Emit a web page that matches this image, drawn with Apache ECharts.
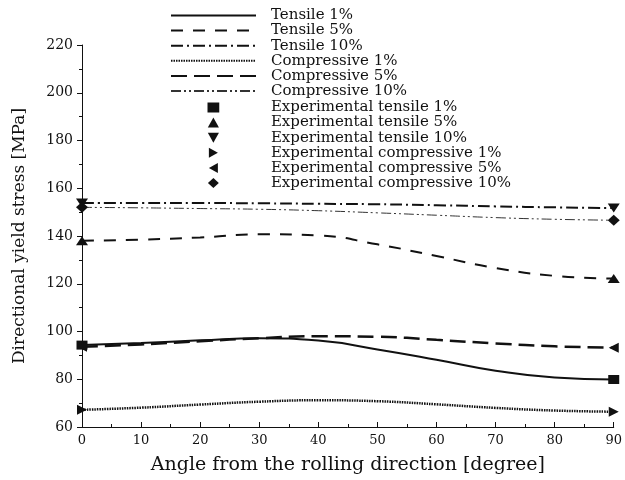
<!DOCTYPE html>
<html>
<head>
<meta charset="utf-8">
<script src="https://cdn.jsdelivr.net/npm/echarts@6/dist/echarts.min.js"></script>
<style>
  html, body { margin: 0; padding: 0; background: #fff; }
  #chart { width: 625px; height: 480px; }
</style>
</head>
<body>
<div id="chart"></div>
<script>
// Angles (degree) at which the model curves are sampled
const angles = [0, 10, 20, 30, 40, 50, 60, 70, 80, 90];

// Model predictions of directional yield stress [MPa]
const tensile1 = [94.3, 95.2, 96.3, 97.2, 96.2, 92.5, 88.2, 83.6, 80.7, 79.9];
const tensile5 = [138.0, 138.5, 139.4, 140.7, 140.2, 136.5, 131.6, 126.6, 123.3, 122.2];
const tensile10 = [153.8, 153.8, 153.8, 153.7, 153.5, 153.3, 152.9, 152.4, 152.0, 151.7];
const compressive1 = [67.2, 68.1, 69.4, 70.6, 71.2, 70.8, 69.5, 68.0, 66.9, 66.4];
const compressive5 = [93.6, 94.6, 95.9, 97.2, 98.0, 97.8, 96.5, 95.0, 93.8, 93.2];
const compressive10 = [152.0, 151.8, 151.5, 151.2, 150.6, 149.7, 148.7, 147.7, 147.0, 146.6];

// Measured values at 0 and 90 degree
const expAngles = [0, 90];
const expTensile1 = [94.3, 79.9];
const expTensile5 = [138.0, 122.2];
const expTensile10 = [153.8, 151.7];
const expCompressive1 = [67.2, 66.4];
const expCompressive5 = [93.6, 93.2];
const expCompressive10 = [152.0, 146.6];

const lineNames = ['Tensile 1%', 'Tensile 5%', 'Tensile 10%',
  'Compressive 1%', 'Compressive 5%', 'Compressive 10%'];
const expNames = ['Experimental tensile 1%', 'Experimental tensile 5%',
  'Experimental tensile 10%', 'Experimental compressive 1%',
  'Experimental compressive 5%', 'Experimental compressive 10%'];

const FONT = 'DejaVu Serif';
const INK = '#111';

function pairs(xs, ys) { return xs.map((x, i) => [x, ys[i]]); }

const lineStyles = [
  { width: 2, type: 'solid' },
  { width: 2, type: [12, 10] },
  { width: 2, type: [12, 4, 2, 4] },
  { width: 2.5, type: [1.5, 1] },
  { width: 2.5, type: [16, 7] },
  { width: 1, type: [10, 3, 2, 3, 2, 3], color: '#333' }
];
const lineData = [tensile1, tensile5, tensile10, compressive1, compressive5, compressive10];

const lineSeries = lineNames.map((name, i) => ({
  name: name,
  type: 'line',
  smooth: true,
  showSymbol: false,
  data: pairs(angles, lineData[i]),
  itemStyle: { color: lineStyles[i].color || INK },
  lineStyle: {
    color: lineStyles[i].color || INK,
    width: lineStyles[i].width,
    type: lineStyles[i].type
  },
  z: 2
}));

// Filled marker shapes: square, up / down / right / left triangle, diamond
const markers = [
  { symbol: 'path://M0,0 L10,0 L10,8.5 L0,8.5 Z', size: [11, 9] },
  { symbol: 'path://M5,0 L10,9 L0,9 Z', size: [12, 9] },
  { symbol: 'path://M0,0 L10,0 L5,9 Z', size: [12, 9] },
  { symbol: 'path://M0,0 L9,5 L0,10 Z', size: [10, 10] },
  { symbol: 'path://M9,0 L0,5 L9,10 Z', size: [10, 10] },
  { symbol: 'path://M6,0 L12,5.5 L6,11 L0,5.5 Z', size: [12, 11] }
];
const expData = [expTensile1, expTensile5, expTensile10,
  expCompressive1, expCompressive5, expCompressive10];

const expSeries = expNames.map((name, i) => ({
  name: name,
  type: 'scatter',
  symbol: markers[i].symbol,
  symbolSize: markers[i].size,
  data: pairs(expAngles, expData[i]),
  itemStyle: { color: INK, opacity: 1 },
  z: 3
}));

const chart = echarts.init(document.getElementById('chart'), null, { renderer: 'canvas' });

chart.setOption({
  animation: false,
  backgroundColor: '#fff',
  textStyle: { fontFamily: FONT, color: INK },
  legend: [
    {
      data: lineNames,
      orient: 'vertical',
      left: 170,
      top: 8,
      padding: 0,
      itemWidth: 85,
      itemHeight: 15,
      itemGap: 0.1,
      // line samples only, no point marker on them
      itemStyle: { color: 'rgba(0,0,0,0)', borderWidth: 0, opacity: 0 },
      textStyle: { fontFamily: FONT, fontSize: 15, color: INK, padding: [0, 0, 0, 10] }
    },
    {
      // the box is measured from the centred marker, so it sits further right
      data: expNames,
      orient: 'vertical',
      left: 207.5,
      top: 100,
      padding: 0,
      itemWidth: 85,
      itemHeight: 10,
      itemGap: 0.1,
      textStyle: { fontFamily: FONT, fontSize: 15, color: INK, padding: [0, 0, 0, 10] }
    }
  ],
  grid: { left: 82, right: 11, top: 45, bottom: 53, containLabel: false },
  xAxis: {
    type: 'value',
    min: 0,
    max: 90,
    interval: 10,
    name: 'Angle from the rolling direction [degree]',
    nameLocation: 'middle',
    nameGap: 29,
    nameTextStyle: { fontFamily: FONT, fontSize: 19, color: INK },
    axisLine: { show: true, lineStyle: { color: INK, width: 1 } },
    axisTick: { show: true, inside: true, length: 5, lineStyle: { color: INK } },
    minorTick: { show: true, splitNumber: 2, length: 3, lineStyle: { color: INK } },
    splitLine: { show: false },
    axisLabel: { fontFamily: FONT, fontSize: 13, color: INK, margin: 7 }
  },
  yAxis: {
    type: 'value',
    min: 60,
    max: 220,
    interval: 20,
    name: 'Directional yield stress [MPa]',
    nameLocation: 'middle',
    nameRotate: 90,
    nameGap: 54,
    nameTextStyle: { fontFamily: FONT, fontSize: 17, color: INK },
    axisLine: { show: true, lineStyle: { color: INK, width: 1 } },
    axisTick: { show: true, inside: false, length: 5, lineStyle: { color: INK } },
    minorTick: { show: true, splitNumber: 2, length: 3, lineStyle: { color: INK } },
    splitLine: { show: false },
    axisLabel: { fontFamily: FONT, fontSize: 14, color: INK, margin: 9 }
  },
  series: lineSeries.concat(expSeries)
});
</script>
</body>
</html>
